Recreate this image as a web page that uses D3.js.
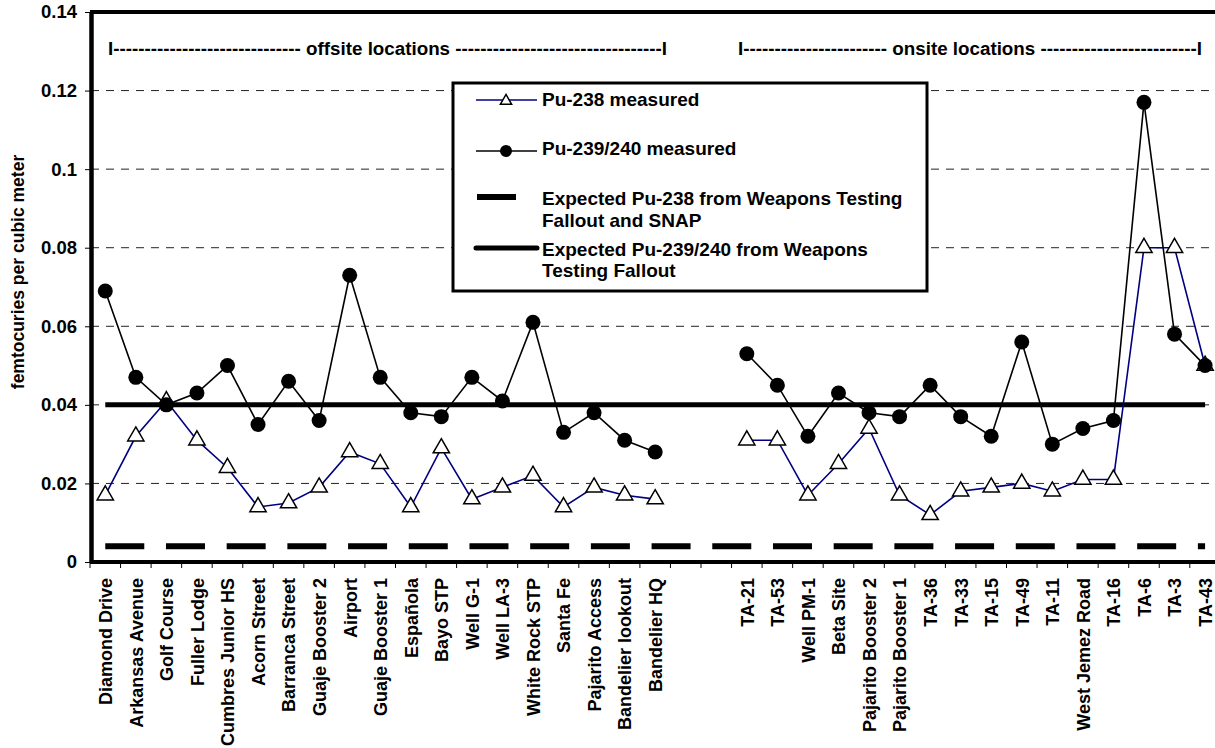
<!DOCTYPE html>
<html>
<head>
<meta charset="utf-8">
<script src="https://cdnjs.cloudflare.com/ajax/libs/d3/7.8.5/d3.min.js"></script>
<style>
  body { margin: 0; background: #fff; }
  svg text { font-family: "Liberation Sans", Arial, sans-serif; font-weight: bold; fill: #000; }
</style>
</head>
<body>
<div id="chart"></div>
<script>

// sampling stations
var offsiteNames = ['Diamond Drive', 'Arkansas Avenue', 'Golf Course', 'Fuller Lodge', 'Cumbres Junior HS',
  'Acorn Street', 'Barranca Street', 'Guaje Booster 2', 'Airport', 'Guaje Booster 1', 'Española',
  'Bayo STP', 'Well G-1', 'Well LA-3', 'White Rock STP', 'Santa Fe', 'Pajarito Access',
  'Bandelier lookout', 'Bandelier HQ'];
var onsiteNames = ['TA-21', 'TA-53', 'Well PM-1', 'Beta Site', 'Pajarito Booster 2', 'Pajarito Booster 1',
  'TA-36', 'TA-33', 'TA-15', 'TA-49', 'TA-11', 'West Jemez Road', 'TA-16', 'TA-6', 'TA-3', 'TA-43'];
var gapSlots = ['gap-1', 'gap-2'];

// measured values, fCi/m3
var pu238Offsite = [0.017, 0.032, 0.041, 0.031, 0.024, 0.014, 0.015, 0.019, 0.028, 0.025, 0.014,
  0.029, 0.016, 0.019, 0.022, 0.014, 0.019, 0.017, 0.016];
var pu239Offsite = [0.069, 0.047, 0.040, 0.043, 0.050, 0.035, 0.046, 0.036, 0.073, 0.047, 0.038,
  0.037, 0.047, 0.041, 0.061, 0.033, 0.038, 0.031, 0.028];
var pu238Onsite = [0.031, 0.031, 0.017, 0.025, 0.034, 0.017, 0.012, 0.018, 0.019, 0.020, 0.018,
  0.021, 0.021, 0.080, 0.080, 0.050];
var pu239Onsite = [0.053, 0.045, 0.032, 0.043, 0.038, 0.037, 0.045, 0.037, 0.032, 0.056, 0.030,
  0.034, 0.036, 0.117, 0.058, 0.050];

// expected from fallout
var expectedPu238 = 0.004;
var expectedPu239 = 0.04;

var yTicks = [0, 0.02, 0.04, 0.06, 0.08, 0.1, 0.12, 0.14];

var svgWidth = 1215;
var svgHeight = 748;
var plotLeft = 90;
var plotTop = 12;
var plotBottom = 562;
var step = 30.55;

var categories = offsiteNames.concat(gapSlots, onsiteNames);
var pu238 = pu238Offsite.concat([null, null], pu238Onsite);
var pu239 = pu239Offsite.concat([null, null], pu239Onsite);

var svg = d3.select('#chart').append('svg')
  .attr('width', svgWidth)
  .attr('height', svgHeight);

var x = d3.scaleBand()
  .domain(categories)
  .range([plotLeft, plotLeft + categories.length * step]);

var y = d3.scaleLinear()
  .domain([0, 0.14])
  .range([plotBottom, plotTop]);

var cx = d => x(d) + x.bandwidth() / 2;

// dashed gridlines
svg.append('g').selectAll('line')
  .data(yTicks.filter(t => t > 0 && t < 0.14))
  .enter()
  .append('line')
  .attr('x1', plotLeft + 1)
  .attr('x2', svgWidth)
  .attr('y1', d => y(d))
  .attr('y2', d => y(d))
  .attr('stroke', '#222')
  .attr('stroke-width', 1)
  .attr('stroke-dasharray', '8,7');

// top border
svg.append('line')
  .attr('x1', plotLeft)
  .attr('x2', svgWidth)
  .attr('y1', y(0.14))
  .attr('y2', y(0.14))
  .attr('stroke', '#000')
  .attr('stroke-width', 4);

// y axis
var yAxis = svg.append('g')
  .attr('transform', `translate(${plotLeft + 1}, 0)`)
  .call(d3.axisLeft(y).tickValues(yTicks).tickSize(6).tickSizeOuter(0).tickPadding(8)
    .tickFormat(d => d === 0 ? '0' : String(+d.toFixed(2))));
yAxis.select('.domain').attr('stroke-width', 4.5);
yAxis.selectAll('text').attr('font-size', '18.5px');

// x axis labels
var xAxis = svg.append('g')
  .attr('transform', `translate(0, ${plotBottom})`)
  .call(d3.axisBottom(x).tickSize(0).tickSizeOuter(0)
    .tickFormat(d => gapSlots.includes(d) ? '' : d));
xAxis.select('.domain').remove();
xAxis.selectAll('text')
  .attr('font-size', '18px')
  .attr('text-anchor', 'end')
  .attr('transform', 'rotate(-90)')
  .attr('x', -16)
  .attr('y', 0)
  .attr('dy', '0.38em');

// x ticks sit between categories
svg.append('g').selectAll('line')
  .data(d3.range(categories.length + 1))
  .enter()
  .append('line')
  .attr('x1', i => plotLeft + i * step)
  .attr('x2', i => plotLeft + i * step)
  .attr('y1', plotBottom)
  .attr('y2', plotBottom + 6)
  .attr('stroke', '#000')
  .attr('stroke-width', 1);

svg.append('line')
  .attr('x1', plotLeft)
  .attr('x2', svgWidth)
  .attr('y1', plotBottom)
  .attr('y2', plotBottom)
  .attr('stroke', '#000')
  .attr('stroke-width', 4);

// y title
svg.append('text')
  .attr('transform', 'translate(18, 272) rotate(-90)')
  .attr('text-anchor', 'middle')
  .attr('dy', '0.35em')
  .attr('font-size', '17.5px')
  .text('femtocuries per cubic meter');

// expected levels
var ends = [categories[0], categories[categories.length - 1]];

svg.append('line')
  .attr('x1', cx(ends[0]))
  .attr('x2', cx(ends[1]))
  .attr('y1', y(expectedPu238))
  .attr('y2', y(expectedPu238))
  .attr('stroke', '#000')
  .attr('stroke-width', 6)
  .attr('stroke-dasharray', '39,21.7');

svg.append('line')
  .attr('x1', cx(ends[0]))
  .attr('x2', cx(ends[1]))
  .attr('y1', y(expectedPu239))
  .attr('y2', y(expectedPu239))
  .attr('stroke', '#000')
  .attr('stroke-width', 5);

// measured series
var line = d3.line()
  .defined(d => d.v != null)
  .x(d => cx(d.name))
  .y(d => y(d.v));

var rows238 = categories.map((c, i) => ({name: c, v: pu238[i]}));
var rows239 = categories.map((c, i) => ({name: c, v: pu239[i]}));

svg.append('path')
  .datum(rows238)
  .attr('d', line)
  .attr('fill', 'none')
  .attr('stroke', '#000080')
  .attr('stroke-width', 1.6);

svg.append('g').selectAll('path')
  .data(rows238.filter(d => d.v != null))
  .enter()
  .append('path')
  .attr('d', d3.symbol().type(d3.symbolTriangle).size(115))
  .attr('transform', d => `translate(${cx(d.name)}, ${y(d.v)})`)
  .attr('fill', '#fff')
  .attr('stroke', '#000')
  .attr('stroke-width', 1.5);

svg.append('path')
  .datum(rows239)
  .attr('d', line)
  .attr('fill', 'none')
  .attr('stroke', '#000')
  .attr('stroke-width', 1.6);

svg.append('g').selectAll('circle')
  .data(rows239.filter(d => d.v != null))
  .enter()
  .append('circle')
  .attr('cx', d => cx(d.name))
  .attr('cy', d => y(d.v))
  .attr('r', 7.5)
  .attr('fill', '#000');

// location group labels
svg.append('text')
  .attr('x', 108)
  .attr('y', 55)
  .attr('font-size', '18.8px')
  .text('I' + '-'.repeat(30) + ' offsite locations ' + '-'.repeat(33) + 'I');

svg.append('text')
  .attr('x', 738)
  .attr('y', 55)
  .attr('font-size', '18.8px')
  .text('I' + '-'.repeat(23) + ' onsite locations ' + '-'.repeat(25) + 'I');

// legend
var legend = svg.append('g');

legend.append('rect')
  .attr('x', 453)
  .attr('y', 83)
  .attr('width', 474)
  .attr('height', 208)
  .attr('fill', '#fff')
  .attr('stroke', '#000')
  .attr('stroke-width', 3);

legend.append('line')
  .attr('x1', 476).attr('x2', 537).attr('y1', 100).attr('y2', 100)
  .attr('stroke', '#000080').attr('stroke-width', 1.6);
legend.append('path')
  .attr('d', d3.symbol().type(d3.symbolTriangle).size(55))
  .attr('transform', 'translate(506, 101)')
  .attr('fill', '#fff').attr('stroke', '#000').attr('stroke-width', 1.5);

legend.append('line')
  .attr('x1', 476).attr('x2', 537).attr('y1', 151).attr('y2', 151)
  .attr('stroke', '#000').attr('stroke-width', 1.6);
legend.append('circle')
  .attr('cx', 506).attr('cy', 151).attr('r', 6)
  .attr('fill', '#000');

legend.append('line')
  .attr('x1', 477).attr('x2', 516).attr('y1', 197).attr('y2', 197)
  .attr('stroke', '#000').attr('stroke-width', 6);

legend.append('line')
  .attr('x1', 476).attr('x2', 537).attr('y1', 248).attr('y2', 248)
  .attr('stroke', '#000').attr('stroke-width', 5).attr('stroke-linecap', 'round');

var legendText = [
  {t: 'Pu-238 measured', y: 106},
  {t: 'Pu-239/240 measured', y: 155},
  {t: 'Expected Pu-238 from Weapons Testing', y: 205},
  {t: 'Fallout and SNAP', y: 227},
  {t: 'Expected Pu-239/240 from Weapons', y: 256},
  {t: 'Testing Fallout', y: 277}
];

legend.selectAll('.legend-text')
  .data(legendText)
  .enter()
  .append('text')
  .classed('legend-text', true)
  .attr('x', 542)
  .attr('y', d => d.y)
  .attr('font-size', '19px')
  .text(d => d.t);

</script>
</body>
</html>
